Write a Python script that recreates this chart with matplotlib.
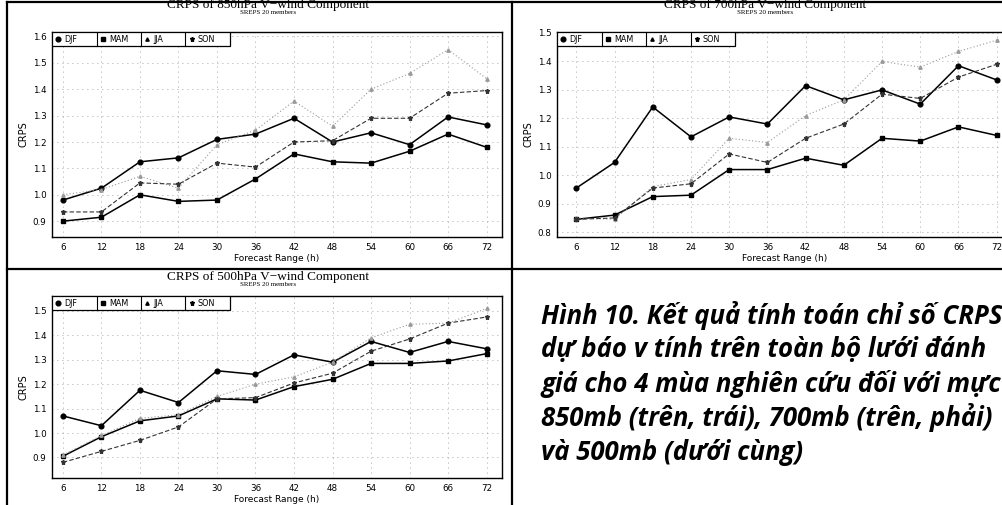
import matplotlib
matplotlib.use("Agg")
import matplotlib.pyplot as plt
from matplotlib.lines import Line2D

W, H = 1002, 505

hours = [6, 12, 18, 24, 30, 36, 42, 48, 54, 60, 66, 72]
seasons = ["DJF", "MAM", "JJA", "SON"]

# CRPS of V-wind, 850 hPa
djf_850 = [0.98, 1.025, 1.125, 1.14, 1.21, 1.23, 1.29, 1.20, 1.235, 1.19, 1.295, 1.265]
mam_850 = [0.90, 0.915, 1.00, 0.975, 0.98, 1.06, 1.155, 1.125, 1.12, 1.165, 1.23, 1.18]
jja_850 = [1.00, 1.02, 1.07, 1.025, 1.19, 1.245, 1.355, 1.26, 1.40, 1.46, 1.55, 1.44]
son_850 = [0.935, 0.935, 1.045, 1.04, 1.12, 1.105, 1.20, 1.205, 1.29, 1.29, 1.385, 1.395]

# 700 hPa
djf_700 = [0.955, 1.045, 1.24, 1.135, 1.205, 1.18, 1.315, 1.265, 1.30, 1.25, 1.385, 1.335]
mam_700 = [0.845, 0.86, 0.925, 0.93, 1.02, 1.02, 1.06, 1.035, 1.13, 1.12, 1.17, 1.14]
jja_700 = [0.85, 0.845, 0.96, 0.985, 1.13, 1.115, 1.21, 1.265, 1.40, 1.38, 1.435, 1.475]
son_700 = [0.845, 0.85, 0.955, 0.97, 1.075, 1.045, 1.13, 1.18, 1.285, 1.27, 1.345, 1.39]

# 500 hPa
djf_500 = [1.07, 1.03, 1.175, 1.125, 1.255, 1.24, 1.32, 1.29, 1.375, 1.33, 1.375, 1.345]
mam_500 = [0.905, 0.985, 1.05, 1.07, 1.14, 1.135, 1.19, 1.22, 1.285, 1.285, 1.295, 1.325]
jja_500 = [0.91, 0.99, 1.06, 1.075, 1.15, 1.20, 1.23, 1.29, 1.39, 1.445, 1.45, 1.51]
son_500 = [0.88, 0.925, 0.97, 1.025, 1.14, 1.145, 1.205, 1.245, 1.335, 1.385, 1.45, 1.475]

yticks_850 = [0.9, 1.0, 1.1, 1.2, 1.3, 1.4, 1.5, 1.6]
yticks_700 = [0.8, 0.9, 1.0, 1.1, 1.2, 1.3, 1.4, 1.5]
yticks_500 = [0.9, 1.0, 1.1, 1.2, 1.3, 1.4, 1.5]

caption = [
    "Hình 10. Kết quả tính toán chỉ số CRPS",
    "dự báo v tính trên toàn bộ lưới đánh",
    "giá cho 4 mùa nghiên cứu đối với mực",
    "850mb (trên, trái), 700mb (trên, phải)",
    "và 500mb (dưới cùng)",
]

# line style per season
styles = {
    "DJF": dict(color="black", ls="-", lw=1.1, marker="o", ms=3.4),
    "MAM": dict(color="black", ls="-", lw=1.1, marker="s", ms=3.0),
    "JJA": dict(color="#9a9a9a", ls=(0, (1, 2)), lw=0.8, marker="^", ms=2.4),
    "SON": dict(color="#333333", ls=(0, (4, 2)), lw=0.8, marker="*", ms=3.6),
}

fig = plt.figure(figsize=(W / 100, H / 100), dpi=100)


def px_axes(l, t, r, b):
    return fig.add_axes([l / W, 1 - b / H, (r - l) / W, (b - t) / H])


def panel(box, ylim, xlim, yticks, series, title, title_y, cx):
    ax = px_axes(*box)
    for name, vals in zip(seasons, series):
        st = styles[name]
        ax.plot(hours, vals, linestyle=st["ls"], color=st["color"], lw=st["lw"],
                marker=st["marker"], ms=st["ms"], mfc=st["color"], mec=st["color"])
    ax.set_xlim(*xlim)
    ax.set_ylim(*ylim)
    ax.set_xticks(hours)
    ax.set_yticks(yticks)
    ax.set_yticklabels([f"{v:.1f}" for v in yticks])
    ax.tick_params(labelsize=6.3, length=0, pad=4)
    ax.grid(True, color="#8a8a8a", ls=(0, (1, 5)), lw=0.6)
    for s in ax.spines.values():
        s.set_linewidth(1.0)
    ax.set_xlabel("Forecast Range (h)", fontsize=6.5, labelpad=2)
    ax.set_ylabel("CRPS", fontsize=7, labelpad=3)

    # boxed legend with one cell per season
    l, t, r, b = box
    cell = 44.5 / (r - l)
    hgt = 14 / (b - t)
    y0 = 1 - hgt
    ax.add_patch(plt.Rectangle((0, y0), 4 * cell, hgt, transform=ax.transAxes,
                               fc="white", ec="black", lw=0.9, zorder=5))
    for i, name in enumerate(seasons):
        st = styles[name]
        x0 = i * cell
        if i > 0:
            ax.add_line(Line2D([x0, x0], [y0, 1], transform=ax.transAxes,
                               color="black", lw=0.8, zorder=6))
        ax.plot([x0 + 0.14 * cell], [y0 + hgt / 2], transform=ax.transAxes,
                marker=st["marker"], ms=st["ms"], color="black", ls="none",
                zorder=7, clip_on=False)
        ax.text(x0 + 0.28 * cell, y0 + hgt / 2, name, transform=ax.transAxes,
                fontsize=5.8, va="center", ha="left", zorder=7)

    fig.text(cx / W, 1 - title_y / H, title, family="Liberation Serif",
             fontsize=9.5, ha="center", va="center")
    fig.text(cx / W, 1 - (title_y + 8) / H, "SREPS 20 members",
             family="Liberation Serif", fontsize=5.0, ha="center", va="center")
    return ax


panel((52, 32, 502, 237), (0.84, 1.617), (4.3, 74.4), yticks_850,
      [djf_850, mam_850, jja_850, son_850],
      "CRPS of 850hPa V\u2212wind Component", 5, 268)
panel((557, 32, 1012, 237), (0.783, 1.5035), (2.97, 74.4), yticks_700,
      [djf_700, mam_700, jja_700, son_700],
      "CRPS of 700hPa V\u2212wind Component", 5, 765)
panel((52, 296, 502, 478), (0.816, 1.561), (4.3, 74.4), yticks_500,
      [djf_500, mam_500, jja_500, son_500],
      "CRPS of 500hPa V\u2212wind Component", 277, 268)

# page frame and cell dividers
frame = [
    ([7, 7], [2, H]),
    ([7, W], [2, 2]),
    ([512, 512], [2, H]),
    ([7, W], [269, 269]),
]
for xs, ys in frame:
    fig.add_artist(Line2D([x / W for x in xs], [1 - y / H for y in ys],
                          color="black", lw=1.6))

for i, line in enumerate(caption):
    fig.text(541 / W, 1 - (316 + 34 * i) / H, line, family="Open Sans",
             weight="bold", style="italic", fontsize=18.5, ha="left", va="center")

fig.savefig("out.png", dpi=100)
